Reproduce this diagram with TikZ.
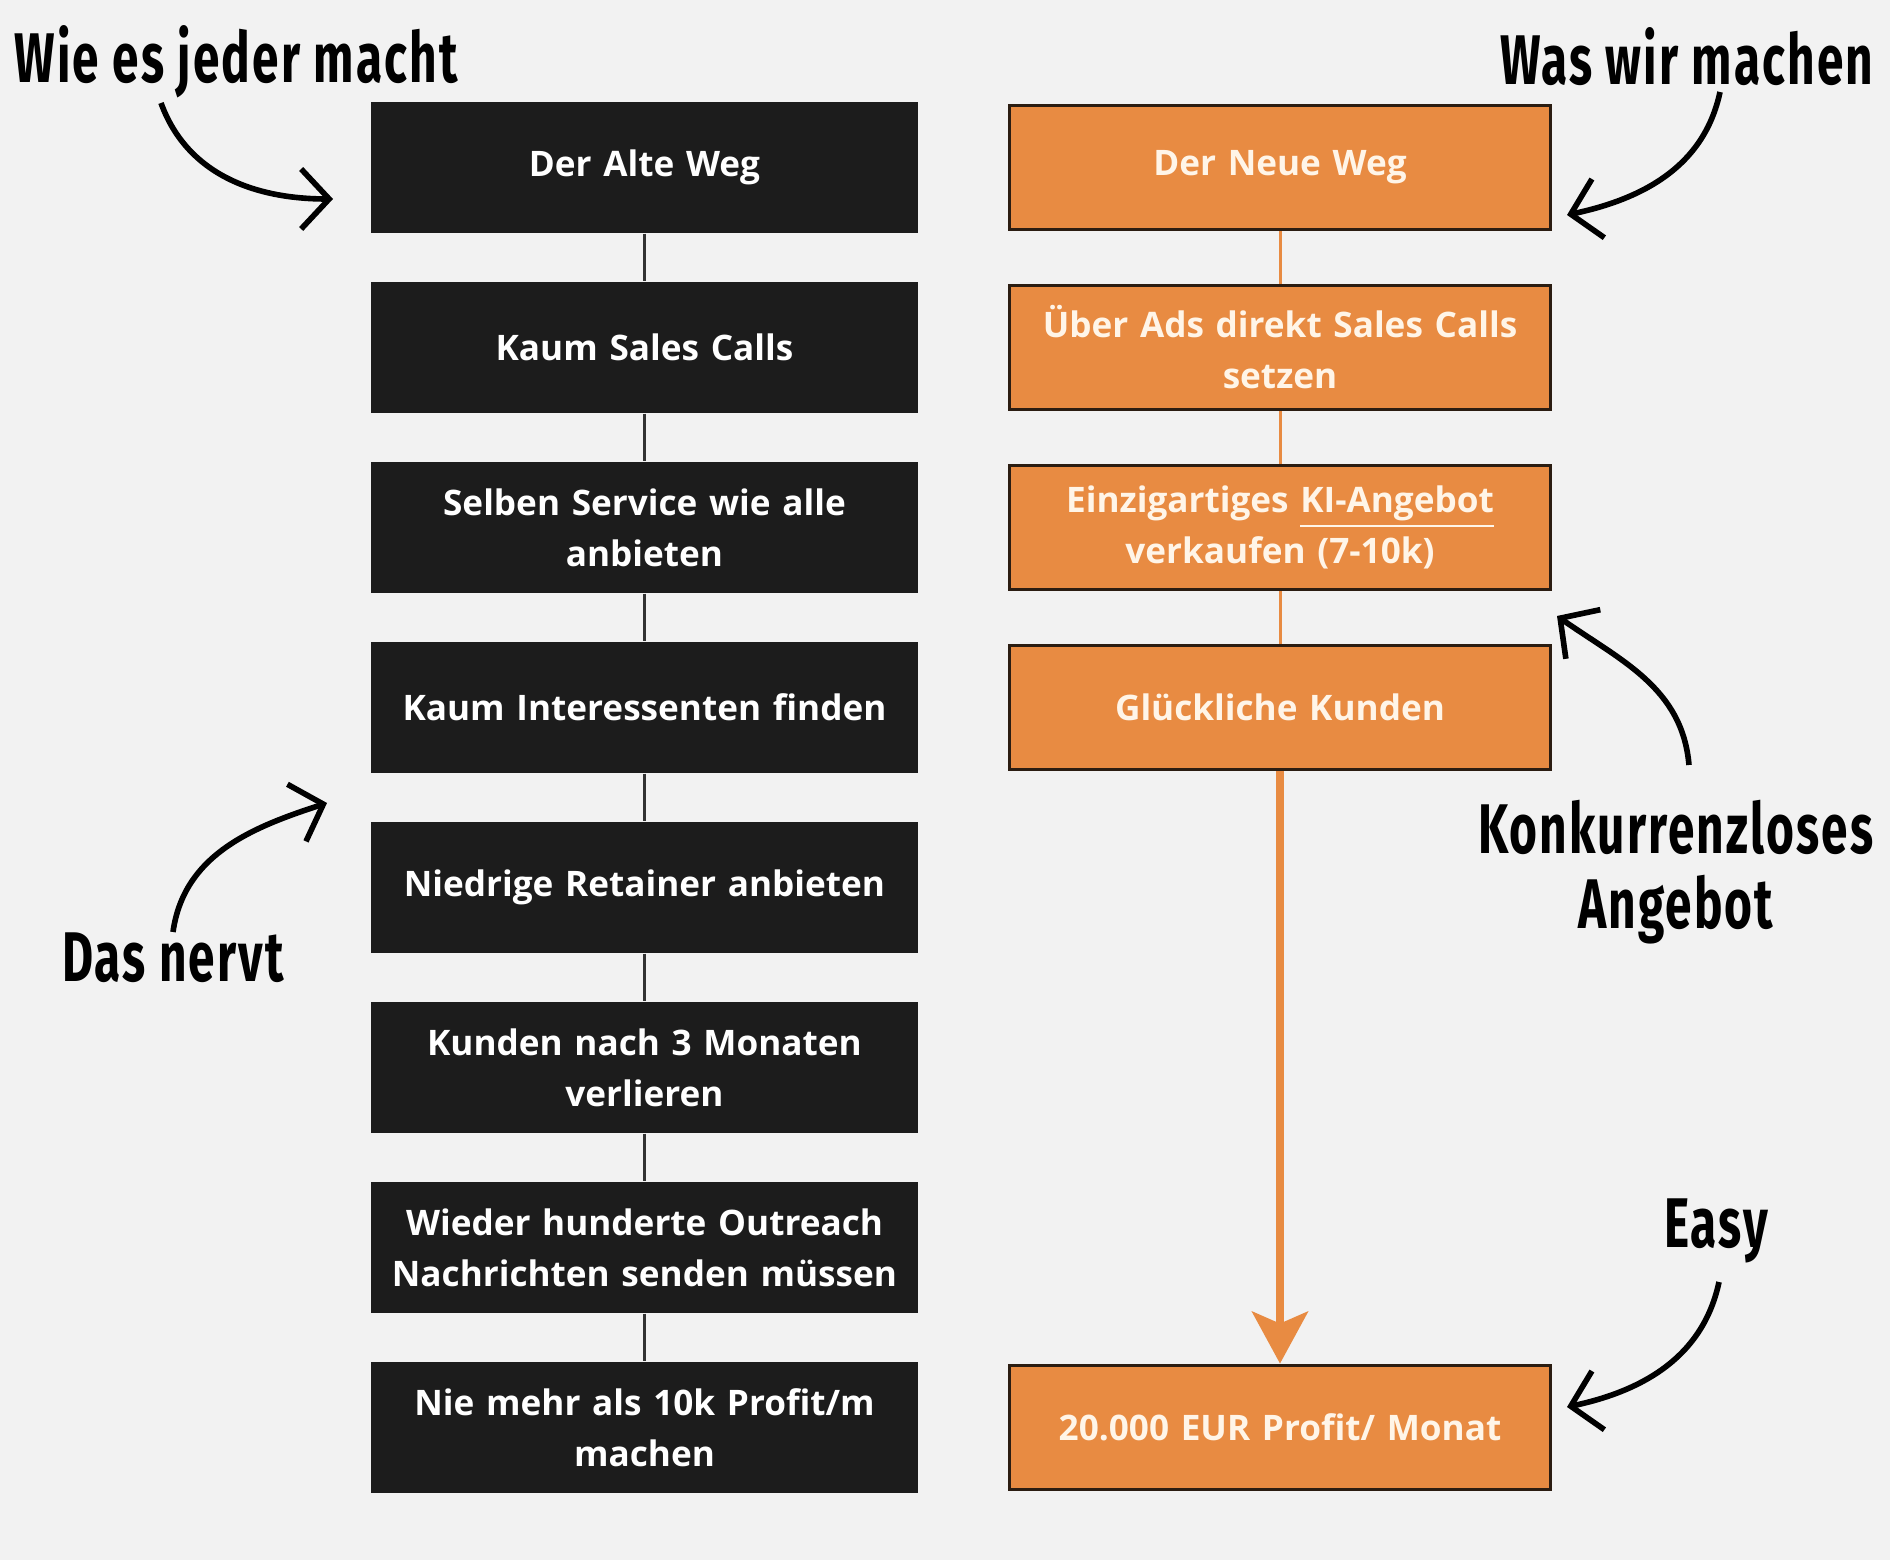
\documentclass[tikz,border=0pt]{standalone}
\usepackage{fontspec}
\setmainfont{Open Sans}
\newfontfamily\handfont[FakeStretch=0.68, LetterSpace=3]{Fira Sans}
\usetikzlibrary{arrows.meta}

\definecolor{bgcol}{HTML}{F2F2F2}
\definecolor{oldfill}{HTML}{1C1C1C}
\definecolor{newfill}{HTML}{E88B42}
\definecolor{newedge}{HTML}{2B1D12}
\definecolor{newtext}{HTML}{FFF5E8}

\tikzset{
	oldbox/.style={rectangle, fill=oldfill, text=white, minimum width=5.47cm, minimum height=1.31cm, text width=5.3cm, align=center, inner sep=0pt, font=\bfseries\fontsize{10}{14.5}\selectfont},
	newbox/.style={oldbox, fill=newfill, draw=newedge, line width=1.1pt, text=newtext, minimum width=5.41cm, minimum height=1.24cm},
	oldline/.style={draw=oldfill!90!white, line width=0.85pt},
	newline/.style={draw=newfill, line width=0.85pt},
	bigarrow/.style={draw=newfill, line width=2pt, -{Stealth[length=0.52cm, width=0.56cm, inset=0.12cm]}},
	hand/.style={font=\handfont\bfseries\fontsize{20}{21.5}\selectfont, align=center, inner sep=0pt},
	handarrow/.style={line width=1.6pt, -{Straight Barb[length=0.28cm, width=0.6cm]}}
}

\begin{document}
\begin{tikzpicture}[node distance=1.8cm]
	\fill[bgcol] (0,0) rectangle (18.9,-15.6);
	\useasboundingbox (0,0) rectangle (18.9,-15.6);

	% Old way
	\node[oldbox] (old1) at (6.445,-1.675) {Der Alte Weg};
	\node[oldbox, below of=old1] (old2) {Kaum Sales Calls};
	\node[oldbox, below of=old2] (old3) {Selben Service wie alle\\anbieten};
	\node[oldbox, below of=old3] (old4) {Kaum Interessenten finden};
	\node[oldbox, below of=old4] (old5) {Niedrige Retainer anbieten};
	\node[oldbox, below of=old5] (old6) {Kunden nach 3 Monaten\\verlieren};
	\node[oldbox, below of=old6] (old7) {Wieder hunderte Outreach\\Nachrichten senden müssen};
	\node[oldbox, below of=old7] (old8) {Nie mehr als 10k Profit/m\\machen};

	% New way
	\node[newbox, right of=old1, node distance=6.355cm] (new1) {Der Neue Weg};
	\node[newbox, below of=new1] (new2) {Über Ads direkt Sales Calls\\setzen};
	\node[newbox, below of=new2] (new3) {Einzigartiges \underline{KI-Angebot}\\verkaufen (7-10k)};
	\node[newbox, below of=new3] (new4) {Glückliche Kunden};
	\node[newbox, right of=old8, node distance=6.355cm] (new5) {20.000 EUR Profit/ Monat};

	% Lines
	\draw[oldline] (old1) -- (old2);
	\draw[oldline] (old2) -- (old3);
	\draw[oldline] (old3) -- (old4);
	\draw[oldline] (old4) -- (old5);
	\draw[oldline] (old5) -- (old6);
	\draw[oldline] (old6) -- (old7);
	\draw[oldline] (old7) -- (old8);
	\draw[newline] (new1) -- (new2);
	\draw[newline] (new2) -- (new3);
	\draw[newline] (new3) -- (new4);
	\draw[bigarrow] (new4) -- (new5);

	% Handwritten notes
	\node[hand, anchor=west] (everyone) at (0.14,-0.62) {Wie es jeder macht};
	\node[hand, anchor=east] (ours) at (18.74,-0.57) {Was wir machen};
	\node[hand] (annoying) at (1.73,-9.58) {Das nervt};
	\node[hand, anchor=east] (unique) at (18.74,-8.72) {Konkurrenzloses\\Angebot};
	\node[hand] (easy) at (17.16,-12.31) {Easy};

	\coordinate (everyone-from) at (1.61,-1.03);
	\coordinate (everyone-to) at (3.33,-1.99);
	\coordinate (ours-from) at (17.20,-0.92);
	\coordinate (ours-to) at (15.67,-2.15);
	\coordinate (unique-from) at (16.89,-7.65);
	\coordinate (unique-to) at (15.57,-6.16);
	\coordinate (annoying-from) at (1.73,-9.32);
	\coordinate (annoying-to) at (3.27,-8.03);
	\coordinate (easy-from) at (17.19,-12.82);
	\coordinate (easy-to) at (15.67,-14.07);

	% Arrows
	\draw[handarrow] (everyone-from) to[out=-70, in=180] (everyone-to);
	\draw[handarrow] (ours-from) to[out=-102, in=12] (ours-to);
	\draw[handarrow] (unique-from) to[out=95, in=-35] (unique-to);
	\draw[handarrow] (annoying-from) to[out=82, in=-162] (annoying-to);
	\draw[handarrow] (easy-from) to[out=-102, in=12] (easy-to);
\end{tikzpicture}
\end{document}
